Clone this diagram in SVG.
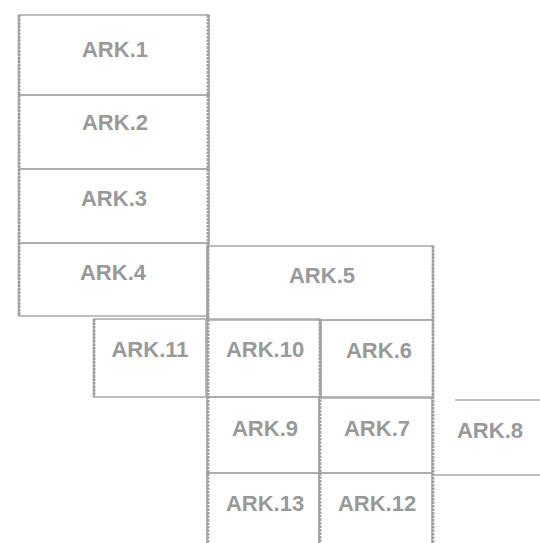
<svg xmlns="http://www.w3.org/2000/svg" width="540" height="543" viewBox="0 0 540 543">
<style>
.b{fill:none;stroke:#a8a8a8;stroke-width:1.5}
.v{stroke:#9c9c9c;stroke-width:2.8;stroke-dasharray:2.5 1;fill:none}
.h{stroke:#a8a8a8;stroke-width:1.5;fill:none}
.t{font-family:"Liberation Sans",Arial,sans-serif;font-weight:bold;font-size:22px;fill:#999999;text-anchor:middle}
</style>
<rect width="540" height="543" fill="#ffffff"/>
<g id="connectors"></g>
<g id="ark1"><rect class="b" x="19" y="15" width="190" height="80"/><text class="t" x="115" y="57">ARK.1</text></g>
<g id="ark2"><rect class="b" x="19" y="95" width="190" height="74"/><text class="t" x="115" y="130">ARK.2</text></g>
<g id="ark3"><rect class="b" x="19" y="169" width="190" height="74"/><text class="t" x="114" y="206">ARK.3</text></g>
<g id="ark4"><rect class="b" x="19" y="243" width="189" height="73"/><text class="t" x="113" y="280">ARK.4</text></g>
<g id="ark5"><rect class="b" x="207" y="246" width="226" height="74"/><text class="t" x="322" y="283">ARK.5</text></g>
<g id="ark11"><rect class="b" x="94" y="319" width="112" height="78"/><text class="t" x="150" y="357">ARK.11</text></g>
<g id="ark10"><rect class="b" x="207" y="319" width="113" height="78"/><text class="t" x="265" y="357">ARK.10</text></g>
<g id="ark6"><rect class="b" x="321" y="320" width="112" height="78"/><text class="t" x="379" y="358">ARK.6</text></g>
<g id="ark9"><rect class="b" x="207" y="397" width="112" height="76"/><text class="t" x="265" y="436">ARK.9</text></g>
<g id="ark7"><rect class="b" x="319" y="397" width="113" height="76"/><text class="t" x="377" y="436">ARK.7</text></g>
<g id="ark8"><line class="h" x1="455" y1="400" x2="540" y2="400"/><line class="h" x1="433" y1="475" x2="540" y2="475"/><text class="t" x="490" y="438">ARK.8</text></g>
<g id="ark13"><rect class="b" x="207" y="473" width="112" height="80"/><text class="t" x="265" y="511">ARK.13</text></g>
<g id="ark12"><rect class="b" x="319" y="473" width="113" height="80"/><text class="t" x="377" y="511">ARK.12</text></g>
<g id="gridlines">
<line class="v" x1="19" y1="15" x2="19" y2="316"/>
<line class="v" x1="208" y1="15" x2="208" y2="543"/>
<line class="v" x1="94" y1="319" x2="94" y2="397"/>
<line class="v" x1="320" y1="319" x2="320" y2="543"/>
<line class="v" x1="433" y1="246" x2="433" y2="543"/>
</g>
</svg>
